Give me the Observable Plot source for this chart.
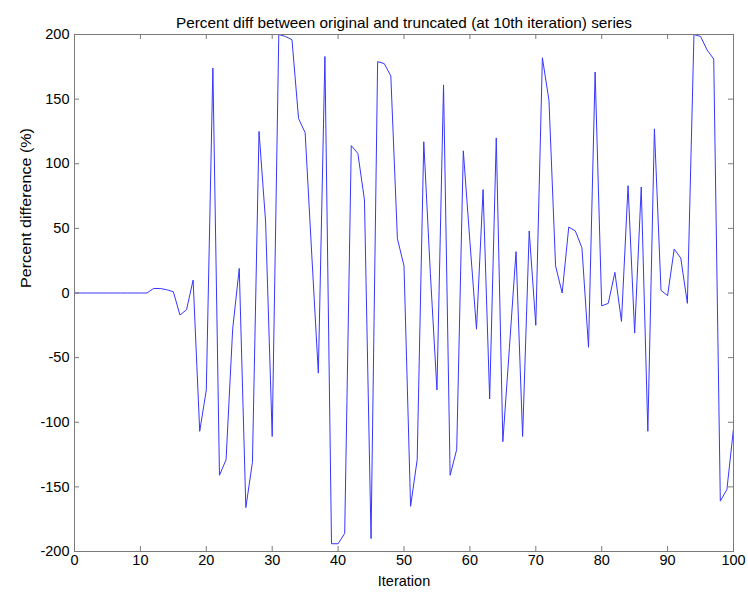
<!DOCTYPE html>
<html>
<head>
<meta charset="utf-8">
<script src="https://cdn.jsdelivr.net/npm/d3@7"></script>
<script src="https://cdn.jsdelivr.net/npm/@observablehq/plot@0.6"></script>
<style>
  html, body { margin: 0; padding: 0; background: #fff; }
  #chart svg { display: block; }
</style>
</head>
<body>
<div id="chart"></div>
<script>
const titleText = "Percent diff between original and truncated (at 10th iteration) series";
const xLabel = "Iteration";
const yLabel = "Percent difference (%)";

const xTicks = [0, 10, 20, 30, 40, 50, 60, 70, 80, 90, 100];
const yTicks = [-200, -150, -100, -50, 0, 50, 100, 150, 200];

// percent difference per iteration (0..100)
const percentDiff = [
  0, 0, 0, 0, 0, 0, 0, 0, 0, 0,
  0, 0, 3.5, 3.5, 2.5, 1, -17, -13, 10, -107,
  -75, 174, -141, -129, -28, 19, -166, -131, 125, 55,
  -111, 200, 198.5, 196, 135, 124, 30, -62, 183, -194,
  -194, -186, 114, 108, 72, -190, 179, 177.5, 168, 42,
  21, -165, -129, 117, 15, -75, 161, -141, -121, 110,
  40, -28, 80, -82, 120, -115, -42, 32, -111, 48,
  -25, 182, 149, 21, 0, 51, 48, 35, -42, 171,
  -10, -8, 16, -22, 83, -31, 82, -107, 127, 2,
  -2, 34, 27, -8, 200, 198.5, 188, 181, -161, -152,
  -105
];
const iterations = d3.range(percentDiff.length);

const data = iterations.map((it, i) => ({iteration: it, pct: percentDiff[i]}));

const W = 748, H = 592;
const mL = 74, mR = 15, mT = 34, mB = 41;
const frameW = W - mL - mR, frameH = H - mT - mB;
const tick = 5;
const axisColor = "#7a7a7a";
const fmt = d => String(d);

const chart = Plot.plot({
  width: W,
  height: H,
  marginLeft: mL,
  marginRight: mR,
  marginTop: mT,
  marginBottom: mB,
  style: {fontFamily: "'Liberation Sans', Arial, sans-serif", fontSize: "14.5px", color: "#000", background: "#fff"},
  x: {domain: [0, 100]},
  y: {domain: [-200, 200]},
  marks: [
    Plot.line(data, {x: "iteration", y: "pct", stroke: "#3636ff", strokeWidth: 1}),
    Plot.frame({stroke: axisColor}),
    Plot.ruleX(xTicks, {x: d => d, insetTop: frameH - tick, stroke: axisColor}),
    Plot.ruleX(xTicks, {x: d => d, insetBottom: frameH - tick, stroke: axisColor}),
    Plot.ruleY(yTicks, {y: d => d, insetRight: frameW - tick, stroke: axisColor}),
    Plot.ruleY(yTicks, {y: d => d, insetLeft: frameW - tick, stroke: axisColor}),
    Plot.axisX(xTicks, {tickSize: 0, tickPadding: 3, label: null, tickFormat: fmt, fontSize: 14.5}),
    Plot.axisY(yTicks, {tickSize: 0, tickPadding: 5, label: null, tickFormat: fmt, fontSize: 14.5}),
    Plot.text([xLabel], {frameAnchor: "bottom", dy: 34, fontSize: 14.5, fill: "#000"}),
    Plot.text([yLabel], {frameAnchor: "left", dx: -48, dy: -5, rotate: -90, fontSize: 15.5, fill: "#000"}),
    Plot.text([titleText], {frameAnchor: "top", dy: -17, fontSize: 15, fill: "#000"})
  ]
});

// stretch the long labels to the lengths they have in the reference
d3.select(chart).selectAll("text")
  .filter(function() { return this.textContent === yLabel; })
  .attr("textLength", 160).attr("lengthAdjust", "spacingAndGlyphs");
d3.select(chart).selectAll("text")
  .filter(function() { return this.textContent === titleText; })
  .attr("textLength", 456).attr("lengthAdjust", "spacingAndGlyphs");

document.getElementById("chart").appendChild(chart);
</script>
</body>
</html>
